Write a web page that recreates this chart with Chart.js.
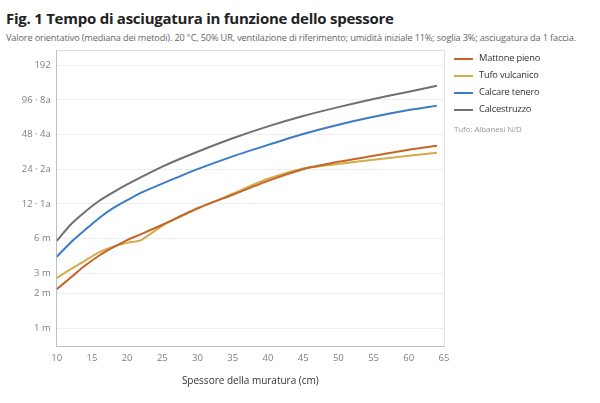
<!DOCTYPE html>
<html>
<head>
<meta charset="utf-8">
<script src="https://cdn.jsdelivr.net/npm/chart.js@4/dist/chart.umd.min.js"></script>
<style>
	body { margin: 0; background: #ffffff; font-family: "Open Sans", "Noto Sans", sans-serif; }
	#page { position: relative; width: 600px; height: 403px; overflow: hidden; }
	h1 { position: absolute; left: 6px; top: 8px; margin: 0; font-size: 15px; letter-spacing: -0.25px; font-weight: 700; color: #222; }
	.sub { position: absolute; left: 6px; top: 31px; font-size: 9.2px; letter-spacing: -0.15px; color: #666; white-space: nowrap; }
	#chartbox { position: absolute; left: 0; top: 45px; width: 600px; height: 358px; }
	.legend { position: absolute; left: 454px; top: 49px; font-size: 9.3px; letter-spacing: -0.2px; color: #333; }
	.legend div { height: 17px; line-height: 17px; white-space: nowrap; }
	.legend span { display: inline-block; width: 19px; height: 2px; vertical-align: middle; margin-right: 6px; }
	.note { position: absolute; left: 454px; top: 123px; font-size: 8px; letter-spacing: -0.1px; color: #999; }
</style>
</head>
<body>
<div id="page">
	<h1>Fig. 1 Tempo di asciugatura in funzione dello spessore</h1>
	<div class="sub">Valore orientativo (mediana dei metodi). 20 °C, 50% UR, ventilazione di riferimento; umidità iniziale 11%; soglia 3%; asciugatura da 1 faccia.</div>
	<div id="chartbox"><canvas id="chart"></canvas></div>
	<div class="legend" id="legend"></div>
	<div class="note">Tufo: Albanesi N/D</div>
</div>
<script>
// spessore (cm)
const thickness = [10, 12, 14, 16, 18, 20, 22, 25, 30, 35, 40, 45, 50, 55, 60, 64];

// tempo di asciugatura (mesi)
const mattone = [2.18, 2.75, 3.48, 4.25, 5.02, 5.82, 6.56, 7.9, 11.0, 14.4, 19.0, 24.0, 27.8, 31.4, 35.4, 38.3];
const tufo = [2.72, 3.25, 3.84, 4.54, 5.09, 5.5, 5.82, 7.74, 10.9, 14.7, 19.8, 24.3, 26.6, 29.0, 31.4, 33.3];
const calcare = [4.16, 5.54, 7.1, 9.0, 11.0, 12.9, 15.0, 18.0, 24.0, 31.0, 39.0, 48.5, 58.4, 68.5, 78.3, 85.5];
const calcestruzzo = [5.73, 7.95, 10.2, 12.7, 15.1, 17.7, 20.5, 25.3, 34.0, 44.5, 56.5, 69.5, 83.0, 97.7, 113, 127];

const seriesNames = ['Mattone pieno', 'Tufo vulcanico', 'Calcare tenero', 'Calcestruzzo'];
const seriesColors = ['#c4662a', '#d4aa4c', '#3b7cc4', '#6f6f74'];

const yTicks = [1, 2, 3, 6, 12, 24, 48, 96, 192];
const yTickLabels = ['1 m', '2 m', '3 m', '6 m', '12 · 1a', '24 · 2a', '48 · 4a', '96 · 8a', '192'];

const series = [mattone, tufo, calcare, calcestruzzo];

const frame = {
	id: 'frame',
	afterDraw(chart) {
		const a = chart.chartArea;
		const ctx = chart.ctx;
		ctx.save();
		ctx.strokeStyle = '#dde1e7';
		ctx.lineWidth = 1;
		ctx.beginPath();
		ctx.moveTo(a.left, a.top + 0.5);
		ctx.lineTo(a.right + 0.5, a.top + 0.5);
		ctx.lineTo(a.right + 0.5, a.bottom);
		ctx.stroke();
		ctx.restore();
	}
};

const datasets = series.map(function(values, i) {
	return {
		label: seriesNames[i],
		data: values.map((v, k) => ({x: thickness[k], y: v})),
		borderColor: seriesColors[i],
		backgroundColor: seriesColors[i],
		borderWidth: 2,
		pointRadius: 0,
		tension: 0.2,
		fill: false
	};
});

new Chart(document.getElementById('chart'), {
	type: 'line',
	data: {datasets: datasets},
	plugins: [frame],
	options: {
		responsive: true,
		maintainAspectRatio: false,
		animation: false,
		layout: {padding: {top: 5, right: 156, left: 0, bottom: 0}},
		plugins: {legend: {display: false}, tooltip: {enabled: false}},
		scales: {
			x: {
				type: 'linear',
				min: 10,
				max: 65,
				afterFit: (scale) => { scale.height = 57; scale.paddingLeft = 0; scale.paddingRight = 0; },
				ticks: {stepSize: 5, color: '#7a808a', font: {family: 'Open Sans', size: 9.5}, padding: 3, maxRotation: 0},
				grid: {display: false, drawOnChartArea: false, drawTicks: true, tickLength: 4, color: '#b9c0ca'},
				border: {color: '#b9c0ca'},
				title: {display: true, text: 'Spessore della muratura (cm)', color: '#333', font: {family: 'Open Sans', size: 10}, padding: {top: 10, bottom: 16}}
			},
			y: {
				type: 'logarithmic',
				min: 0.7,
				max: 260,
				afterFit: (scale) => { scale.width = 56.7; scale.paddingTop = 0; scale.paddingBottom = 0; },
				afterBuildTicks: (scale) => { scale.ticks = yTicks.map(v => ({value: v})); },
				ticks: {
					color: '#7a808a',
					font: {family: 'Open Sans', size: 9.5},
					padding: 6,
					callback: (value) => yTickLabels[yTicks.indexOf(value)]
				},
				grid: {color: '#eceef2', drawTicks: false},
				border: {color: '#b9c0ca'}
			}
		}
	}
});

document.getElementById('legend').innerHTML = seriesNames.map((n, i) =>
	'<div><span style="background:' + seriesColors[i] + '"></span>' + n + '</div>').join('');
</script>
</body>
</html>
